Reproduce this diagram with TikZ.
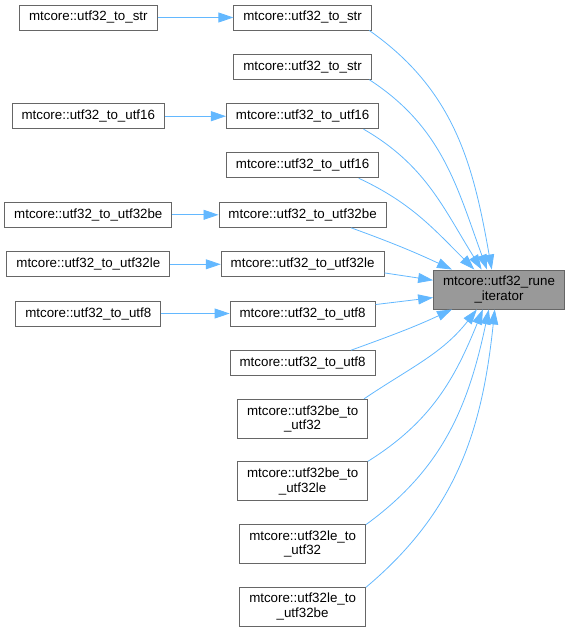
\documentclass[tikz,border=0pt]{standalone}
\usepackage{fontspec}
\setmainfont{Liberation Sans}
\usetikzlibrary{arrows.meta,positioning}
\definecolor{edgeblue}{HTML}{63B8FF}
\definecolor{boxgray}{HTML}{666666}
\definecolor{rootfill}{HTML}{999999}

\begin{document}
\begin{tikzpicture}[x=1pt, y=-1pt,
    fn/.style={rectangle, draw=boxgray, line width=0.9pt, fill=white, align=center, font=\fontsize{13.33}{14.5}\selectfont, inner xsep=9.5pt, inner ysep=0pt, minimum height=25pt},
    fntwo/.style={fn, minimum height=39pt},
    root/.style={fntwo, fill=rootfill},
    call/.style={draw=edgeblue, line width=0.8pt, -{Triangle[length=15pt, width=10pt]}}
]
    \useasboundingbox (0,0) rectangle (570,632);
    \node[root] (rune_it) at (499,289.5) {mtcore::utf32\_rune\\\_iterator};
    % callees of rune_it
    \node[fn] (str_a) at (302.6,17.5) {mtcore::utf32\_to\_str};
    \node[fn] (str_b) at (302.6,66.7) {mtcore::utf32\_to\_str};
    \node[fn] (u16_a) at (302.6,116.2) {mtcore::utf32\_to\_utf16};
    \node[fn] (u16_b) at (302.6,165.3) {mtcore::utf32\_to\_utf16};
    \node[fn] (u32be) at (302.6,214.8) {mtcore::utf32\_to\_utf32be};
    \node[fn] (u32le) at (302.6,264.3) {mtcore::utf32\_to\_utf32le};
    \node[fn] (u8_a) at (302.6,313.5) {mtcore::utf32\_to\_utf8};
    \node[fn] (u8_b) at (302.6,363.2) {mtcore::utf32\_to\_utf8};
    \node[fntwo] (be_u32) at (302.6,418.8) {mtcore::utf32be\_to\\\_utf32};
    \node[fntwo] (be_le) at (302.6,481.3) {mtcore::utf32be\_to\\\_utf32le};
    \node[fntwo] (le_u32) at (302.6,544) {mtcore::utf32le\_to\\\_utf32};
    \node[fntwo] (le_be) at (302.6,606.7) {mtcore::utf32le\_to\\\_utf32be};
    % outer callers
    \node[fn] (str_call) at (88.3,17.5) {mtcore::utf32\_to\_str};
    \node[fn] (u16_call) at (88.3,116.2) {mtcore::utf32\_to\_utf16};
    \node[fn] (be_call) at (88.3,214.8) {mtcore::utf32\_to\_utf32be};
    \node[fn] (le_call) at (88.3,264.3) {mtcore::utf32\_to\_utf32le};
    \node[fn] (u8_call) at (88.3,313.5) {mtcore::utf32\_to\_utf8};
    \path [call] (str_call) -- (str_a);
    \path [call] (u16_call) -- (u16_a);
    \path [call] (be_call) -- (u32be);
    \path [call] (le_call) -- (u32le);
    \path [call] (u8_call) -- (u8_a);
    \path [call] (str_a.-11) to[out=-35, in=100] (rune_it.110);
    \path [call] (str_b.-11) to[out=-33, in=110] (rune_it.121);
    \path [call] (u16_a.-12) to[out=-30, in=122] (rune_it.131);
    \path [call] (u16_b.-13) to[out=-25, in=135] (rune_it.141);
    \path [call] (u32be.-15) to[out=-20, in=155] (rune_it.157);
    \path [call] (u32le.-6) -- (rune_it.172);
    \path [call] (u8_a.7) -- (rune_it.187);
    \path [call] (u8_b.15) to[out=20, in=-155] (rune_it.203);
    \path [call] (be_u32.18) to[out=34, in=-128] (rune_it.222);
    \path [call] (be_le.17) to[out=32, in=-112] (rune_it.231);
    \path [call] (le_u32.17) to[out=36, in=-102] (rune_it.243);
    \path [call] (le_be.17) to[out=40, in=-96] (rune_it.258);
\end{tikzpicture}
\end{document}
